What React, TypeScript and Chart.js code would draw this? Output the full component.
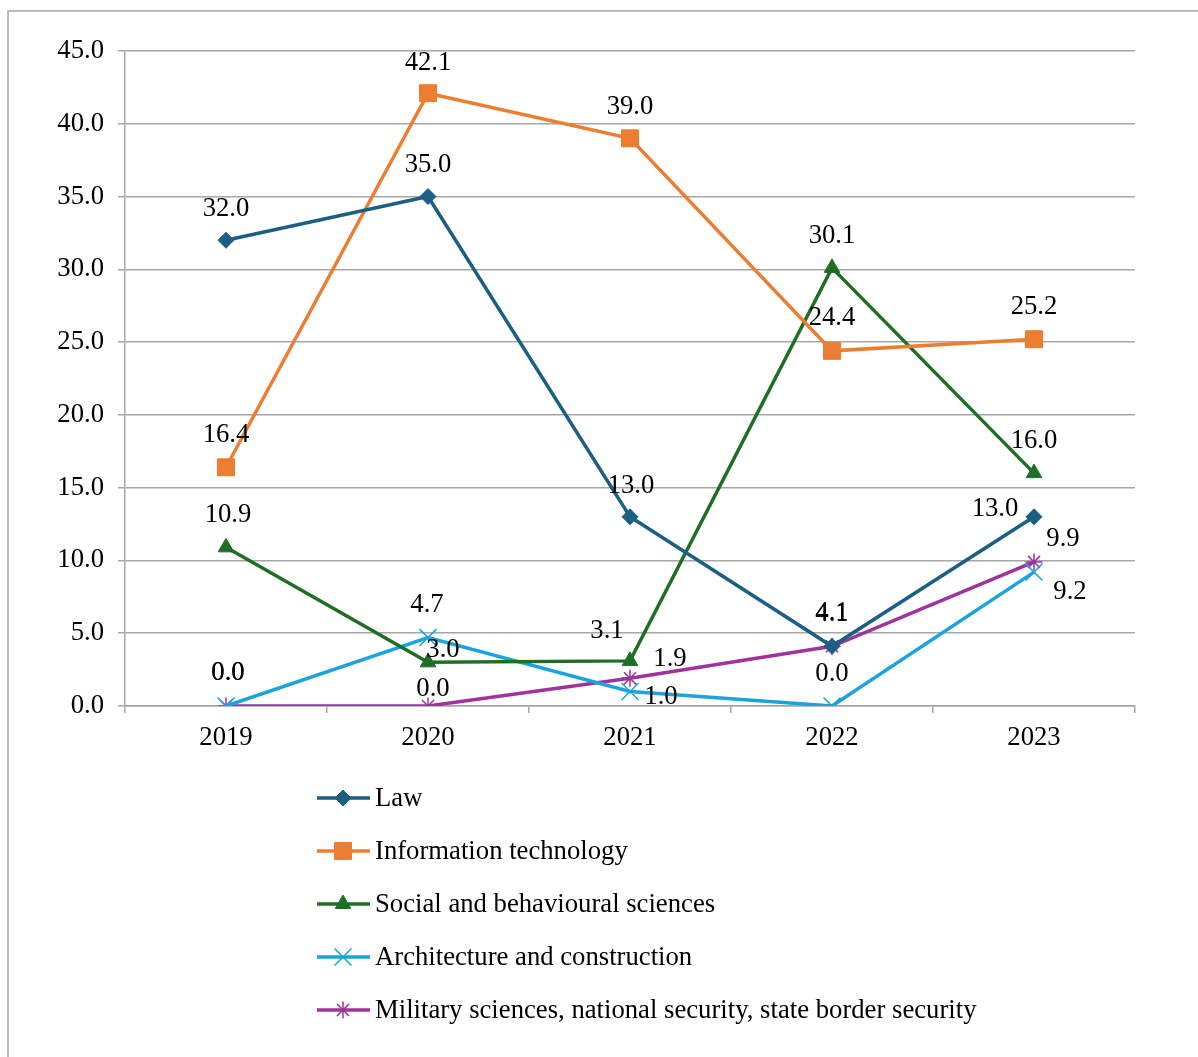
import React, { useEffect, useRef } from "react";
import { Chart, registerables } from "chart.js";

Chart.register(...registerables);

const years = ["2019", "2020", "2021", "2022", "2023"];
const law = [32.0, 35.0, 13.0, 4.1, 13.0];
const infoTech = [16.4, 42.1, 39.0, 24.4, 25.2];
const socialSci = [10.9, 3.0, 3.1, 30.1, 16.0];
const architecture = [0.0, 4.7, 1.0, 0.0, 9.2];
const military = [0.0, 0.0, 1.9, 4.1, 9.9];
const yTicks = [0, 5, 10, 15, 20, 25, 30, 35, 40, 45];

// label offsets (dx, dy) per point, style only
const lawOff = [[0, -33], [0, -34], [1, -33], [0, -35], [-39, -10]];
const itOff = [[0, -34], [0, -32], [0, -33], [0, -35], [0, -34]];
const socOff = [[2, -34], [15, -14], [-23, -32], [0, -34], [0, -34]];
const archOff = [[2, -35], [-1, -35], [31, 4], [0, -34], [36, 18]];
const milOff = [[2, -35], [5, -19], [40, -21], [0, -34], [29, -25]];

const FONT = "'Liberation Serif', 'Times New Roman', serif";
const FS = 26.7;

const labelPlugin = {
  id: "valueLabels",
  afterDatasetsDraw(chart: any) {
    const ctx = chart.ctx;
    ctx.save();
    ctx.font = `${FS}px ${FONT}`;
    ctx.fillStyle = "#000";
    ctx.textAlign = "center";
    ctx.textBaseline = "middle";
    chart.data.datasets.forEach((ds: any, i: number) => {
      const meta = chart.getDatasetMeta(i);
      meta.data.forEach((pt: any, j: number) => {
        const off = ds.labelOffsets[j];
        ctx.fillText(Number(ds.data[j]).toFixed(1), pt.x + off[0], pt.y + off[1] + 2);
      });
    });
    ctx.restore();
  },
};

function drawMarker(ctx: CanvasRenderingContext2D, style: string, r: number, x: number, y: number) {
  ctx.beginPath();
  if (style === "rectRot") {
    ctx.moveTo(x, y - r);
    ctx.lineTo(x + r, y);
    ctx.lineTo(x, y + r);
    ctx.lineTo(x - r, y);
    ctx.closePath();
    ctx.fill();
    ctx.stroke();
  } else if (style === "rect") {
    const s = Math.SQRT1_2 * r;
    ctx.rect(x - s, y - s, 2 * s, 2 * s);
    ctx.fill();
    ctx.stroke();
  } else if (style === "triangle") {
    const edge = (3 * r) / Math.sqrt(3);
    const h = (edge * Math.sqrt(3)) / 2;
    ctx.moveTo(x, y - (2 * h) / 3);
    ctx.lineTo(x + edge / 2, y + h / 3);
    ctx.lineTo(x - edge / 2, y + h / 3);
    ctx.closePath();
    ctx.fill();
    ctx.stroke();
  } else if (style === "crossRot") {
    const o = Math.SQRT1_2 * r;
    ctx.moveTo(x - o, y - o);
    ctx.lineTo(x + o, y + o);
    ctx.moveTo(x - o, y + o);
    ctx.lineTo(x + o, y - o);
    ctx.stroke();
  } else if (style === "star") {
    const o = Math.SQRT1_2 * r;
    ctx.moveTo(x - o, y - o);
    ctx.lineTo(x + o, y + o);
    ctx.moveTo(x - o, y + o);
    ctx.lineTo(x + o, y - o);
    ctx.moveTo(x, y - r);
    ctx.lineTo(x, y + r);
    ctx.stroke();
  }
}

const framePlugin = {
  id: "frameLegend",
  afterDraw(chart: any) {
    const ctx = chart.ctx;
    ctx.save();
    ctx.strokeStyle = "#a6a6a6";
    ctx.lineWidth = 1.5;
    ctx.beginPath();
    ctx.moveTo(8, 1057);
    ctx.lineTo(8, 11);
    ctx.lineTo(1198, 11);
    ctx.stroke();

    const rows = [798, 851, 904, 957, 1010];
    ctx.font = `${FS}px ${FONT}`;
    ctx.textBaseline = "middle";
    ctx.textAlign = "left";
    chart.data.datasets.forEach((ds: any, i: number) => {
      const y = rows[i];
      ctx.strokeStyle = ds.borderColor;
      ctx.lineWidth = 3.5;
      ctx.beginPath();
      ctx.moveTo(317, y);
      ctx.lineTo(370, y);
      ctx.stroke();
      ctx.lineWidth = ds.pointBorderWidth;
      ctx.strokeStyle = ds.pointBorderColor;
      ctx.fillStyle = ds.pointBackgroundColor;
      drawMarker(ctx, ds.pointStyle, ds.pointRadius, 343, y);
      ctx.fillStyle = "#000";
      ctx.fillText(ds.label, 375, y + 1);
    });
    ctx.restore();
  },
};

export default function App() {
  const ref = useRef<HTMLCanvasElement>(null);

  useEffect(() => {
    if (!ref.current) return;
    const mk = (label: string, data: number[], color: string, style: string, radius: number, bw: number, offs: number[][]) => ({
      label,
      data,
      borderColor: color,
      backgroundColor: color,
      borderWidth: 3.5,
      pointStyle: style,
      pointRadius: radius,
      pointBorderWidth: bw,
      pointBorderColor: color,
      pointBackgroundColor: color,
      pointHoverRadius: radius,
      tension: 0,
      labelOffsets: offs,
    });
    const chart = new Chart(ref.current, {
      type: "line",
      data: {
        labels: years,
        datasets: [
          mk("Law", law, "#1c5f85", "rectRot", 8, 1, lawOff),
          mk("Information technology", infoTech, "#ed7d31", "rect", 12, 1, itOff),
          mk("Social and behavioural sciences", socialSci, "#1f6e25", "triangle", 9, 1, socOff),
          mk("Architecture and construction", architecture, "#1aa4dd", "crossRot", 12, 1.5, archOff),
          mk("Military sciences, national security, state border security", military, "#a0329b", "star", 8.5, 1.5, milOff),
        ] as any,
      },
      options: {
        animation: false,
        responsive: false,
        devicePixelRatio: 1,
        layout: { padding: { top: 51, right: 63, left: 0, bottom: 0 } },
        plugins: { legend: { display: false }, tooltip: { enabled: false } },
        scales: {
          x: {
            type: "category",
            offset: true,
            afterFit: (s: any) => { s.height = 1057 - 706; },
            grid: {
              offset: true,
              drawOnChartArea: false,
              drawTicks: true,
              tickLength: 7,
              color: "#a6a6a6",
              lineWidth: 1.5,
            },
            border: { color: "#a6a6a6", width: 1.5 },
            ticks: { color: "#000", font: { family: FONT, size: FS }, padding: 9 },
          },
          y: {
            min: 0,
            max: 45,
            afterFit: (s: any) => { s.width = 125; },
            afterBuildTicks: (s: any) => { s.ticks = yTicks.map((v) => ({ value: v })); },
            grid: { color: "#a6a6a6", lineWidth: 1.5, tickLength: 7 },
            border: { color: "#a6a6a6", width: 1.5 },
            ticks: {
              color: "#000",
              font: { family: FONT, size: FS },
              padding: 14,
              callback: (v: any) => Number(v).toFixed(1),
            },
          },
        },
      } as any,
      plugins: [labelPlugin, framePlugin],
    });
    return () => chart.destroy();
  }, []);

  return (
    <div style={{ position: "absolute", left: 0, top: 0, width: 1198, height: 1057, background: "#fff" }}>
      <canvas ref={ref} width={1198} height={1057} style={{ width: 1198, height: 1057, display: "block" }} />
    </div>
  );
}
